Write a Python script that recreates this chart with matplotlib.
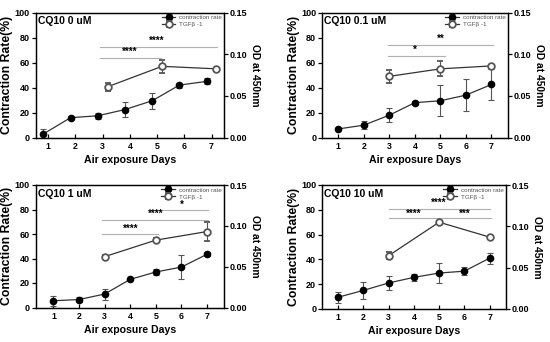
import matplotlib
matplotlib.use("Agg")
import matplotlib.pyplot as plt
import numpy as np

plt.rcParams['font.family'] = ['Liberation Sans', 'DejaVu Sans']
plt.rcParams['font.weight'] = 'bold'

days = [1, 2, 3, 4, 5, 6, 7]
tgf_days = [3, 5, 7]
titles = ["CQ10 0 uM", "CQ10 0.1 uM", "CQ10 1 uM", "CQ10 10 uM"]

# contraction rate (%) mean and error
cr_0 = [3, 16, 17.5, 22.5, 29.5, 42, 45]
cr_0_err = [4, 1, 2.5, 6, 6.5, 2, 2.5]
cr_01 = [7, 10, 18, 28, 29.5, 34, 42.5]
cr_01_err = [1, 3, 5.5, 1.5, 12.5, 13, 12.5]
cr_1 = [5.5, 6.5, 11, 23, 29, 33, 43.5]
cr_1_err = [4, 2, 4.5, 1, 2.5, 10, 1.5]
cr_10 = [9.5, 15, 21, 25.5, 29, 30.5, 41]
cr_10_err = [4.5, 7, 5.5, 3, 8, 3, 4.5]

# TGF-beta1 OD at 450nm
tgf_0 = [0.061, 0.0855, 0.0825]
tgf_0_err = [0.005, 0.0075, 0.001]
tgf_01 = [0.0735, 0.0825, 0.086]
tgf_01_err = [0.0075, 0.009, 0.0015]
tgf_1 = [0.0623, 0.0825, 0.093]
tgf_1_err = [0.002, 0.002, 0.012]
tgf_10 = [0.0645, 0.105, 0.087]
tgf_10_err = [0.0045, 0.001, 0.0015]

# significance brackets: (x_start, x_end, y_line (left-axis units), label, label_x, label_y)
sig_0 = [(2.9, 5.15, 64, "****", 4.0, 68.5), (2.9, 7.2, 72.5, "****", 5.0, 77)]
sig_01 = [(2.95, 5.2, 65, "*", 4.0, 70), (2.95, 7.05, 74, "**", 5.0, 78.7)]
sig_1 = [(2.9, 5.1, 60, "****", 4.0, 64), (2.9, 7.05, 71.6, "****", 5.0, 76.6), (4.9, 7.05, 80, "*", 6.0, 83.8)]
sig_10 = [(3.0, 5.0, 73, "****", 4.0, 77), (5.0, 7.05, 73, "***", 6.0, 77), (3.0, 7.0, 81, "****", 5.0, 85.8)]

panels = [
    (cr_0, cr_0_err, tgf_0, tgf_0_err, sig_0, 0.18, (0.53, 7.47)),
    (cr_01, cr_01_err, tgf_01, tgf_01_err, sig_01, 0.0, (0.35, 7.65)),
    (cr_1, cr_1_err, tgf_1, tgf_1_err, sig_1, 0.0, (0.3, 7.66)),
    (cr_10, cr_10_err, tgf_10, tgf_10_err, sig_10, 0.0, (0.35, 7.65)),
]

W, H = 550, 342
rects = [
    (35.5, 12.5, 224.3, 137.7),
    (321.7, 12.5, 508, 137.7),
    (35.5, 185, 224, 307.5),
    (321.7, 185, 506, 309),
]

fig = plt.figure(figsize=(5.5, 3.42), dpi=100)

dark = '#333333'
for i, ((cr, cre, tg, tge, sig, dodge, xl), (l, t, r, b)) in enumerate(zip(panels, rects)):
    ax = fig.add_axes([l / W, 1 - b / H, (r - l) / W, (b - t) / H])
    ax2 = ax.twinx()
    xd = np.array(days) - dodge
    xt = np.array(tgf_days) + dodge
    ax.errorbar(xd, cr, yerr=cre, color=dark, ecolor='#555555', elinewidth=0.8,
                capsize=2, capthick=0.8, marker='o', ms=4.5, mfc='black', mec='black',
                lw=0.9, label='contraction rate', zorder=3)
    ax2.errorbar(xt, tg, yerr=tge, color=dark, ecolor='#555555', elinewidth=0.8,
                 capsize=2, capthick=0.8, marker='o', ms=4.8, mfc='white', mec='#555555',
                 mew=1.3, lw=0.9, label='TGFβ -1', zorder=3)
    for (x0, x1, yl, lab, lx, ly) in sig:
        ax.plot([x0, x1], [yl, yl], color='#b0b0b0', lw=0.8, zorder=1)
        ax.text(lx, ly, lab, ha='center', va='center', fontsize=7, fontweight='bold')
    ax.set_xlim(*xl)
    ax.set_ylim(0, 100)
    ax2.set_ylim(0, 0.15)
    ax.set_xticks(days)
    ax.set_yticks([0, 20, 40, 60, 80, 100])
    ax2.set_yticks([0, 0.05, 0.10, 0.15])
    ax2.set_yticklabels(['0.00', '0.05', '0.10', '0.15'])
    ax.tick_params(axis='x', direction='in', length=3, width=0.9, labelsize=6.3, pad=3)
    ax.tick_params(axis='y', direction='out', length=3, width=0.9, labelsize=6.5, pad=1)
    ax2.tick_params(axis='y', direction='out', length=3, width=0.9, labelsize=6.5, pad=1)
    for a in (ax, ax2):
        for s in a.spines.values():
            s.set_linewidth(0.9)
        for lbl in a.get_xticklabels() + a.get_yticklabels():
            lbl.set_fontweight('bold')
    ax.set_xlabel('Air exposure Days', fontsize=7.6, fontweight='bold', labelpad=3)
    ax.set_ylabel('Contraction Rate(%)', fontsize=8.8, fontweight='bold', labelpad=1)
    ax2.set_ylabel('OD at 450nm', fontsize=7.4, fontweight='bold', rotation=270, labelpad=9)
    ax.text(0.015, 0.93, titles[i], transform=ax.transAxes, fontsize=7.5,
            fontweight='bold', va='center', ha='left')
    h1, l1 = ax.get_legend_handles_labels()
    h2, l2 = ax2.get_legend_handles_labels()
    leg = ax.legend(h1 + h2, l1 + l2, loc='upper right', frameon=False,
                    prop={'size': 4.5, 'weight': 'normal'}, handlelength=2.2,
                    borderaxespad=0.05, labelspacing=0.25, handletextpad=0.6,
                    borderpad=0.3)
    for tx in leg.get_texts():
        tx.set_color('#555555')

fig.savefig('out.png', dpi=100)
